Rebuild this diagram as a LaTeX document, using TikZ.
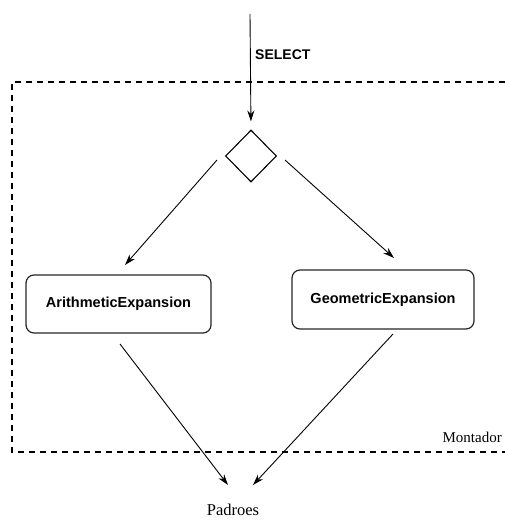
\documentclass[tikz,border=0pt]{standalone}
\usepackage{fontspec}
\setmainfont{Liberation Serif}
\setsansfont{Liberation Sans}
\usetikzlibrary{shapes.geometric,arrows.meta}
\begin{document}
\begin{tikzpicture}[x=1pt,y=-1pt,
  flow/.style={draw=black, line width=0.9pt, -{Stealth[length=11pt,width=7pt]}},
  classbox/.style={draw=black!85, line width=1.2pt, rounded corners=8pt,
    inner sep=0pt, font=\sffamily\bfseries\fontsize{14.5}{17}\selectfont},
  frameline/.style={draw=black, line width=1.3pt, dash pattern=on 6pt off 5pt},
  lbl/.style={inner sep=0pt}]
  \useasboundingbox (0,0) rectangle (505,520);

  % enclosing frame (open on the right)
  \draw[frameline] (505,82) -- (12,82) -- (12,452) -- (505,452);

  % decision and classes
  \node[diamond, draw, line width=1.1pt, aspect=1, inner sep=0pt,
        minimum width=51pt, minimum height=52pt] (dec) at (251,156) {};
  \node[classbox, minimum width=185pt, minimum height=58pt] (arith) at (118.5,304) {ArithmeticExpansion};
  \node[classbox, minimum width=182pt, minimum height=59pt] (geo) at (383,299.5) {GeometricExpansion};

  % labels
  \node[lbl, font=\sffamily\bfseries\fontsize{14}{17}\selectfont, anchor=west] (sel) at (255,55) {SELECT};
  \node[lbl, font=\fontsize{16.5}{19}\selectfont] (pad) at (233,510) {Padroes};
  \node[lbl, font=\fontsize{15}{18}\selectfont, anchor=east] (mon) at (502,437) {Montador};

  % connector end points
  \coordinate (in) at (250,14);
  \coordinate (dl) at (217,160);
  \coordinate (dr) at (285,160);
  \coordinate (at) at (125,265);
  \coordinate (gt) at (394,258);
  \coordinate (ab) at (120,344);
  \coordinate (gb) at (393,334);
  \coordinate (pl) at (228,485);
  \coordinate (pr) at (253,485);

  \draw[flow, shorten >=8pt] (in) -- (dec.north);
  \draw[flow] (dl) -- (at);
  \draw[flow] (dr) -- (gt);
  \draw[flow] (ab) -- (pl);
  \draw[flow] (gb) -- (pr);
\end{tikzpicture}
\end{document}
